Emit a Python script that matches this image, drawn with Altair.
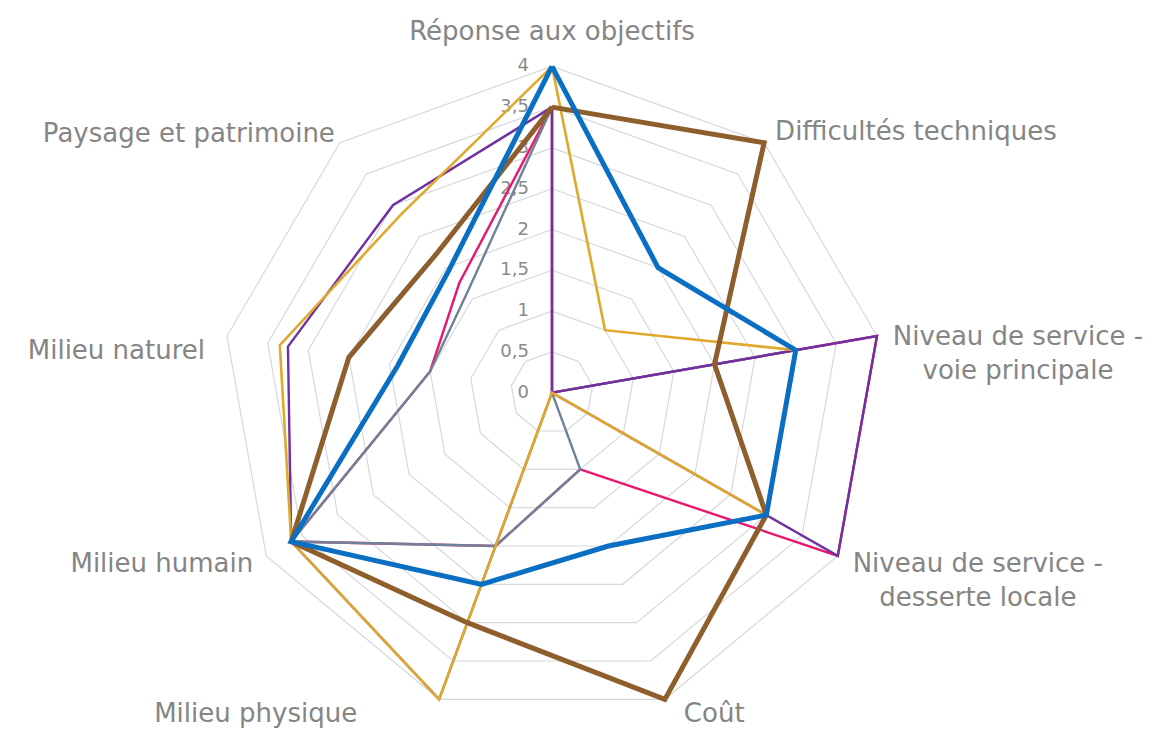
import altair as alt
import pandas as pd

# ---- data -------------------------------------------------------------
categories = [
    "Réponse aux objectifs",
    "Difficultés techniques",
    "Niveau de service -\nvoie principale",
    "Niveau de service -\ndesserte locale",
    "Coût",
    "Milieu physique",
    "Milieu humain",
    "Milieu naturel",
    "Paysage et patrimoine",
]

series_names = ["Rose", "Ardoise", "Violet", "Or", "Brun", "Bleu"]
s_rose    = [3.5, 0, 4, 4, 1, 2, 3.65, 1.5, 1.75]
s_ardoise = [3.5, 0, 3, 0, 1, 2, 3.65, 1.5, 1.6]
s_violet  = [3.5, 0, 4, 4, 0, 4, 3.65, 3.25, 3.0]
s_or      = [4, 1, 3, 3, 0, 4, 3.65, 3.35, 2.85]
s_brun    = [3.5, 4, 2, 3, 4, 3, 3.65, 2.5, 2.2]
s_bleu    = [4, 2, 3, 3, 2, 2.5, 3.65, 1.9, 1.95]

tick_values = [0, 0.5, 1, 1.5, 2, 2.5, 3, 3.5, 4]
tick_labels = ["0", "0,5", "1", "1,5", "2", "2,5", "3", "3,5", "4"]
max_value = 4

# ---- styles -----------------------------------------------------------
series_values = [s_rose, s_ardoise, s_violet, s_or, s_brun, s_bleu]
series_colors = ["#E8196C", "#6F8298", "#7030A0", "#E0A82C", "#8E5E2C", "#0A6FC2"]
series_widths = [2.4, 2.4, 2.4, 2.6, 5, 5]

N = len(categories)
W, H = 1154, 720
CX, CY = 544, 389
U = 82.5
XDOM = [-CX / U, (W - CX) / U]
YDOM = [-(H - CY) / U, CY / U]

xs = alt.Scale(domain=XDOM, nice=False, zero=False)
ys = alt.Scale(domain=YDOM, nice=False, zero=False)

def polar(ch):
    return ch.transform_calculate(
        px=f"datum.value * sin(datum.idx * 2 * PI / {N})",
        py=f"datum.value * cos(datum.idx * 2 * PI / {N})",
    )

def xy():
    return dict(
        x=alt.X("px:Q", scale=xs, axis=None),
        y=alt.Y("py:Q", scale=ys, axis=None),
    )

layers = []

# grid rings
ring_rows = []
for lv in tick_values[1:]:
    for i in range(N + 1):
        ring_rows.append({"level": lv, "idx": i % N, "ord": i, "value": lv})
rings = polar(alt.Chart(pd.DataFrame(ring_rows))).mark_line(
    color="#D6D8DC", strokeWidth=1.2
).encode(detail="level:N", order="ord:Q", **xy())
layers.append(rings)

# tick labels
tick_df = pd.DataFrame({"idx": 0, "value": tick_values, "lab": tick_labels})
ticks = polar(alt.Chart(tick_df)).mark_text(
    align="right", baseline="middle", dx=-23, dy=0,
    font="DejaVu Sans", fontSize=18, color="#8A8A8A"
).encode(text="lab:N", **xy())
layers.append(ticks)

# series
for name, vals, col, w in zip(series_names, series_values, series_colors, series_widths):
    rows = [{"idx": i % N, "ord": i, "value": vals[i % N]} for i in range(N + 1)]
    ln = polar(alt.Chart(pd.DataFrame(rows))).mark_line(
        color=col, strokeWidth=w, strokeJoin="miter", strokeMiterLimit=10
    ).encode(order="ord:Q", **xy())
    layers.append(ln)

# category labels
lab_df = pd.DataFrame({"idx": list(range(N)), "value": max_value, "txt": categories})
label_style = [
    ("center", 0, -34),
    ("left", 11, -11),
    ("center", 141, 1),
    ("center", 140, 8),
    ("left", 19, 15),
    ("right", -82, 15),
    ("right", -13, 8),
    ("right", -22, 15),
    ("right", -5, -9),
]
for i, (al, dx, dy) in enumerate(label_style):
    t = polar(alt.Chart(lab_df).transform_filter(f"datum.idx == {i}")).mark_text(
        align=al, baseline="middle", dx=dx, dy=dy, lineBreak="\n", lineHeight=34,
        font="DejaVu Sans", fontSize=26, color="#858585"
    ).encode(text="txt:N", **xy())
    layers.append(t)

chart = alt.layer(*layers).properties(
    width=W, height=H, padding=0,
    autosize=alt.AutoSizeParams(type="fit", contains="padding"),
).configure_view(stroke=None)

chart.save("out.html", embed_options={"renderer": "svg", "actions": False})
